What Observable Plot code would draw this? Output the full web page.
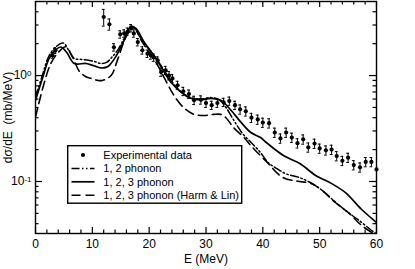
<!DOCTYPE html>
<html><head><meta charset="utf-8">
<script src="https://cdn.jsdelivr.net/npm/d3@7"></script>
<script src="https://cdn.jsdelivr.net/npm/@observablehq/plot@0.6"></script>
<style>
body{margin:0;background:#fff;}
#wrap{position:relative;width:415px;height:269px;font-family:"Liberation Sans",Arial,sans-serif;}
#legend{position:absolute;left:67px;top:145px;}
</style></head><body><div id="wrap"></div>
<script>
// ---- data ----
const expE   = [3.0,3.5,12.0,13.0,13.8,14.9,15.6,16.2,16.8,17.3,18.0,18.8,19.7,20.3,20.8,21.5,22.1,22.9,23.5,24.1,25.0,26.0,27.0,27.9,29.1,30.0,31.0,32.0,33.1,34.1,35.1,36.0,37.0,38.0,39.1,40.0,41.1,42.1,43.1,44.1,45.1,46.1,47.1,48.0,49.1,50.0,51.1,52.1,53.0,54.0,55.0,56.0,57.1,58.1,59.1,60.0];
const expV   = [1.55,1.72,3.57,3.05,1.85,2.45,2.5,2.6,2.8,2.5,2.07,1.73,1.61,1.55,1.48,1.39,1.08,1.12,1.0,0.94,0.81,0.71,0.67,0.585,0.59,0.55,0.525,0.55,0.56,0.575,0.525,0.48,0.46,0.40,0.385,0.36,0.355,0.29,0.255,0.29,0.26,0.23,0.25,0.21,0.228,0.205,0.197,0.20,0.174,0.157,0.168,0.143,0.136,0.153,0.153,0.13];
const expErr = [0.06,0.06,0.18,0.12,0.08,0.08,0.08,0.08,0.08,0.08,0.08,0.08,0.08,0.08,0.08,0.08,0.09,0.09,0.09,0.09,0.09,0.09,0.09,0.09,0.09,0.09,0.09,0.09,0.09,0.09,0.09,0.1,0.1,0.1,0.1,0.1,0.1,0.1,0.1,0.1,0.1,0.1,0.1,0.1,0.1,0.1,0.1,0.1,0.1,0.1,0.1,0.1,0.1,0.1,0.1,0];

const ph12E = [0,1.2,2.3,3.5,4.9,5.8,6.8,8.0,9.5,10.5,11.5,12.5,13.5,14.5,15.6,16.6,17.3,18.3,19.5,21,22.5,24,25.6,27.3,29.1,30.8,32.3,33.5,35,36.5,37.9,39.5,41,42.5,44.1,46.2,48,50,52.2,54.6,56.9,59.3,60];
const ph12V = [0.63,1.0,1.5,1.85,2.03,1.75,1.45,1.42,1.39,1.35,1.30,1.33,1.5,1.75,2.25,2.85,2.85,2.35,1.9,1.5,1.15,0.87,0.70,0.62,0.60,0.62,0.59,0.50,0.37,0.28,0.235,0.19,0.15,0.132,0.118,0.11,0.10,0.086,0.068,0.053,0.043,0.034,0.032];

const ph123E = [0,1.3,2.4,3.6,4.5,5.5,6.8,8.9,10.2,11.5,12.5,13.0,14.1,15.6,16.8,17.7,19.1,20.3,21.2,22.1,23.8,25.6,27.3,29.1,30.8,32.6,34.4,36.1,37.9,39.6,40.5,43.7,46.5,49.3,52.2,54.6,57.3,60];
const ph123V = [0.585,0.97,1.45,1.76,1.86,1.65,1.30,1.30,1.24,1.18,1.2,1.25,1.50,2.15,2.92,2.77,2.07,1.70,1.45,1.21,0.87,0.70,0.61,0.59,0.61,0.585,0.47,0.365,0.29,0.26,0.236,0.175,0.148,0.114,0.095,0.078,0.055,0.041];

const harmE = [0,1.5,2.7,4.0,5.3,6.5,7.7,8.8,9.8,11,11.8,13.3,14.4,15.9,16.8,17.4,18.5,20,21.5,22.8,23.8,24.7,26.2,27.9,29.7,31.4,32.6,33.5,34.9,36.7,38,40.6,43.4,46.4,48.5,50.5,52.8,55.2,57.5,60];
const harmV = [0.405,0.84,1.30,1.65,1.87,1.50,1.10,0.98,0.94,0.90,0.90,1.0,1.39,2.31,2.71,2.82,2.2,1.65,1.25,0.92,0.73,0.61,0.49,0.43,0.42,0.43,0.43,0.40,0.32,0.26,0.215,0.155,0.11,0.10,0.096,0.082,0.063,0.050,0.038,0.031];

const xMajor = [0,10,20,30,40,50,60];
const xMinor = [2,4,6,8,12,14,16,18,22,24,26,28,32,34,36,38,42,44,46,48,52,54,56,58];
const yMajor = [0.1,1];
const yMinor = [0.04,0.05,0.06,0.07,0.08,0.09,0.2,0.3,0.4,0.5,0.6,0.7,0.8,0.9,2,3,4];
const yTickText = {"0.1":["10","-1"],"1":["10","0"]};
const xLabel = "E (MeV)";
const yLabel = "dσ/dE  (mb/MeV)";
const seriesNames = ["Experimental data","1, 2 phonon","1, 2, 3 phonon","1, 2, 3 phonon (Harm & Lin)"];

// ---- tables ----
const exp = expE.map((e,i)=>({e, v:expV[i], err:expErr[i]}));
const mk = (E,V)=>E.map((e,i)=>({e, v:V[i]}));
const ph12 = mk(ph12E,ph12V), ph123 = mk(ph123E,ph123V), harm = mk(harmE,harmV);

const W=415, H=269, mL=35, mR=39, mT=1, mB=36;
const iw=W-mL-mR, ih=H-mT-mB;
const dashDot = "8,2.5,1.5,2.5,1.5,2.5";
const dashed = "9,5";

const plot = Plot.plot({
  width: W, height: H,
  marginLeft: mL, marginRight: mR, marginTop: mT, marginBottom: mB,
  style: {fontFamily: '"Liberation Sans", Arial, sans-serif', fontSize: "12px", color: "black", background: "white"},
  x: {domain: [0,60], ticks: xMajor, tickSize: 0, tickPadding: 6, label: null, tickFormat: d=>String(d)},
  y: {type: "log", domain: [0.0323, 5], ticks: yMajor, tickSize: 0, tickPadding: 4, label: null,
      tickFormat: d => yTickText[String(d)].join("|")},
  marks: [
    Plot.line(ph12, {x:"e", y:"v", stroke:"black", strokeWidth:1.5, strokeDasharray: dashDot, curve:"catmull-rom", clip:true}),
    Plot.line(ph123, {x:"e", y:"v", stroke:"black", strokeWidth:1.7, curve:"catmull-rom", clip:true}),
    Plot.line(harm, {x:"e", y:"v", stroke:"black", strokeWidth:1.6, strokeDasharray: dashed, curve:"catmull-rom", clip:true}),
    Plot.ruleX(exp.filter(d=>d.err>0), {x:"e", y1: d=>d.v*(1-d.err), y2: d=>d.v*(1+d.err), stroke:"black", strokeWidth:1}),
    Plot.ruleY(exp.filter(d=>d.err>0), {y: d=>d.v*(1+d.err), x1: d=>d.e-0.25, x2: d=>d.e+0.25, stroke:"black", strokeWidth:1}),
    Plot.ruleY(exp.filter(d=>d.err>0), {y: d=>d.v*(1-d.err), x1: d=>d.e-0.25, x2: d=>d.e+0.25, stroke:"black", strokeWidth:1}),
    Plot.dot(exp, {x:"e", y:"v", r:2.1, fill:"black", stroke:"none"}),
    // inward ticks
    Plot.tickX(xMajor, {x: d=>d, insetTop: ih-6, stroke:"black", strokeWidth:1.2}),
    Plot.tickX(xMinor, {x: d=>d, insetTop: ih-3.5, stroke:"black", strokeWidth:1.2}),
    Plot.tickX(xMajor, {x: d=>d, insetBottom: ih-6, stroke:"black", strokeWidth:1.2}),
    Plot.tickX(xMinor, {x: d=>d, insetBottom: ih-3.5, stroke:"black", strokeWidth:1.2}),
    Plot.tickY(yMajor, {y: d=>d, insetRight: iw-7, stroke:"black", strokeWidth:1.2}),
    Plot.tickY(yMinor, {y: d=>d, insetRight: iw-3.5, stroke:"black", strokeWidth:1.2}),
    Plot.tickY(yMajor, {y: d=>d, insetLeft: iw-7, stroke:"black", strokeWidth:1.2}),
    Plot.tickY(yMinor, {y: d=>d, insetLeft: iw-3.5, stroke:"black", strokeWidth:1.2}),
    Plot.frame({stroke:"black", strokeWidth:1.4}),
    Plot.text([xLabel], {text: d=>d, frameAnchor:"bottom", dy: 29, fontSize: 12, fill:"black"}),
    Plot.text([yLabel], {text: d=>d, frameAnchor:"left", textAnchor:"middle", rotate: -90, dx: -27, fontSize: 12, fill:"black"})
  ]
});

// superscripts on y tick labels
d3.select(plot).selectAll("text").each(function(){
  const t = this.textContent;
  if (t.includes("|")) {
    const [base, sup] = t.split("|");
    const sel = d3.select(this);
    sel.text(null);
    sel.append("tspan").text(base);
    sel.append("tspan").attr("dy","-0.45em").attr("font-size","8px").text(sup);
  }
});
document.getElementById("wrap").appendChild(plot);

// legend
const lg = d3.select("#wrap").append("svg").attr("id","legend").attr("width",176).attr("height",59)
  .style("font-family",'"Liberation Sans", Arial, sans-serif').style("font-size","11px");
lg.append("rect").attr("x",0.7).attr("y",0.7).attr("width",174).attr("height",57.5).attr("fill","white").attr("stroke","black").attr("stroke-width",1.4);
const rowY = i => 10 + i*13.4;
lg.append("circle").attr("cx",16).attr("cy",rowY(0)).attr("r",2.1).attr("fill","black");
const styles = [null, {w:1.5, d:dashDot}, {w:1.7, d:null}, {w:1.6, d:dashed}];
styles.forEach((s,i)=>{ if(!s) return;
  const l = lg.append("line").attr("x1",4.5).attr("x2",27.5).attr("y1",rowY(i)).attr("y2",rowY(i)).attr("stroke","black").attr("stroke-width",s.w);
  if (s.d) l.attr("stroke-dasharray", s.d);
});
seriesNames.forEach((n,i)=>{
  lg.append("text").attr("x",36.3).attr("y",rowY(i)).attr("dy","0.35em").attr("fill","black").text(n);
});
</script></body></html>
